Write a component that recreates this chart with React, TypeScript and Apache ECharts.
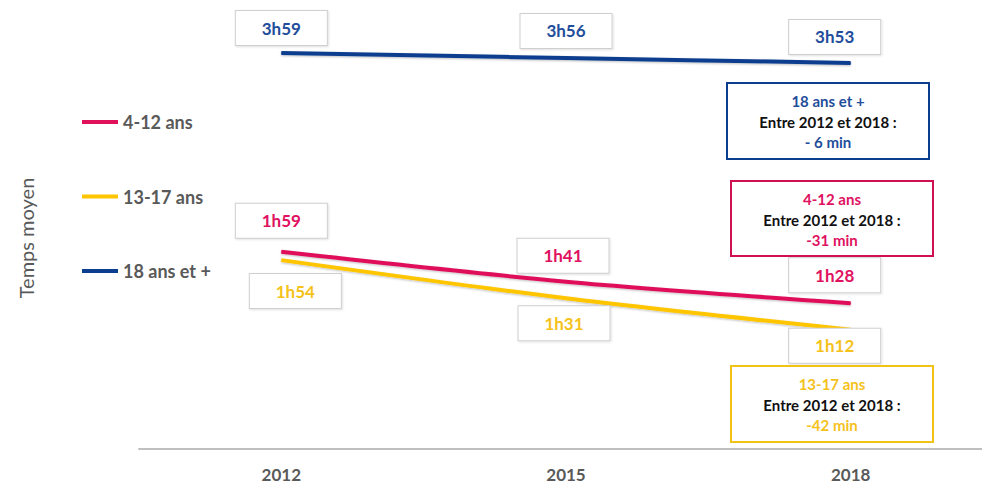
import React, { useEffect, useRef } from "react";
import * as echarts from "echarts";

const years = ["2012", "2015", "2018"];
const seriesNames = ["4-12 ans", "13-17 ans", "18 ans et +"];
// average time, in minutes
const kids = [119, 101, 88];
const teens = [114, 91, 72];
const adults = [239, 236, 233];

const colors = ["#e0105a", "#ffc600", "#0c3e8f"];
const labelColors = ["#e0115f", "#f5c21c", "#1f4e9b"];
// label box centre offsets from their point (layout only)
const labelOffsets = [
  [[0, -31], [-3, -26], [-16, -28]],
  [[14, 31], [-2, 25], [-16, 16]],
  [[0, -25], [0, -27], [-16, -26]],
];

const notes = [
  { title: "18 ans et +", delta: "- 6 min", color: "#1f4e9b", border: "#0c3e8f", x: 727, y: 83, h: 76 },
  { title: "4-12 ans", delta: "-31 min", color: "#e0115f", border: "#d0104f", x: 731, y: 181, h: 75 },
  { title: "13-17 ans", delta: "-42 min", color: "#f5c21c", border: "#f2c314", x: 731, y: 366, h: 76 },
];
const noteMiddle = "Entre 2012 et 2018 :";

const FONT = "Lato, 'Noto Sans', sans-serif";

function fmt(v: number) {
  const h = Math.floor(v / 60);
  const m = v % 60;
  return `${h}h${m < 10 ? "0" + m : m}`;
}

export default function App() {
  const ref = useRef<HTMLDivElement>(null);
  useEffect(() => {
    if (!ref.current) return;
    const chart = echarts.init(ref.current, null, { renderer: "svg" });
    const all = [kids, teens, adults];
    const series = all.map((vals, si) => ({
      name: seriesNames[si],
      type: "line",
      smooth: 0.3,
      symbol: "circle",
      symbolSize: 1,
      showSymbol: true,
      itemStyle: { color: colors[si] },
      lineStyle: {
        width: 4,
        color: colors[si],
        shadowColor: "rgba(0,0,0,0.25)",
        shadowBlur: 2,
        shadowOffsetY: 1,
      },
      z: 3 - si,
      data: vals.map((v, i) => ({
        value: v,
        label: {
          show: true,
          position: "inside",
          offset: labelOffsets[si][i],
          formatter: () => fmt(v),
          color: labelColors[si],
          fontFamily: FONT,
          fontWeight: "bold",
          fontSize: 17,
          backgroundColor: "#ffffff",
          borderColor: "#cfcfcf",
          borderWidth: 1,
          width: 91,
          height: 34,
          lineHeight: 34,
          align: "center",
          verticalAlign: "middle",
          padding: 0,
          shadowColor: "rgba(0,0,0,0.12)",
          shadowBlur: 2,
          shadowOffsetX: 1,
          shadowOffsetY: 1,
        },
      })),
    }));

    const graphic: any[] = [
      {
        type: "text",
        x: 26,
        y: 238,
        rotation: Math.PI / 2,
        style: {
          text: "Temps moyen",
          fill: "#595959",
          font: `20px ${FONT}`,
          align: "center",
          verticalAlign: "middle",
        },
      },
    ];
    notes.forEach((n) => {
      const cx = n.x + 101;
      graphic.push({
        type: "rect",
        shape: { x: n.x, y: n.y, width: 202, height: n.h },
        style: { fill: "#ffffff", stroke: n.border, lineWidth: 2 },
        z: 10,
      });
      const lines = [
        { t: n.title, c: n.color, s: 15 },
        { t: noteMiddle, c: "#111111", s: 15 },
        { t: n.delta, c: n.color, s: 15 },
      ];
      lines.forEach((l, k) => {
        graphic.push({
          type: "text",
          x: cx,
          y: n.y + 18 + k * 20.5,
          z: 11,
          style: {
            text: l.t,
            fill: l.c,
            font: `bold ${l.s}px ${FONT}`,
            align: "center",
            verticalAlign: "middle",
          },
        });
      });
    });

    chart.setOption({
      animation: false,
      backgroundColor: "#ffffff",
      grid: {
        left: 139,
        width: 854,
        top: 0,
        height: 449,
        containLabel: false,
        outerBoundsMode: "none",
      },
      legend: {
        data: seriesNames,
        orient: "vertical",
        left: 82,
        top: 112,
        padding: 0,
        itemGap: 54.5,
        itemWidth: 36,
        itemHeight: 4,
        icon: "rect",
        textStyle: {
          color: "#595959",
          fontFamily: FONT,
          fontWeight: "bold",
          fontSize: 18,
          lineHeight: 20,
        },
      },
      xAxis: {
        type: "category",
        data: years,
        boundaryGap: true,
        axisLine: { lineStyle: { color: "#bfbfbf", width: 2 } },
        axisTick: { show: false },
        axisLabel: {
          color: "#595959",
          fontFamily: FONT,
          fontWeight: "bold",
          fontSize: 17,
          lineHeight: 16,
          margin: 17,
        },
      },
      yAxis: {
        type: "value",
        min: 0,
        max: 271,
        show: false,
      },
      series,
      graphic,
    });
    return () => chart.dispose();
  }, []);
  return (
    <div
      ref={ref}
      style={{ position: "absolute", left: 0, top: 0, width: 982, height: 483 }}
    />
  );
}
